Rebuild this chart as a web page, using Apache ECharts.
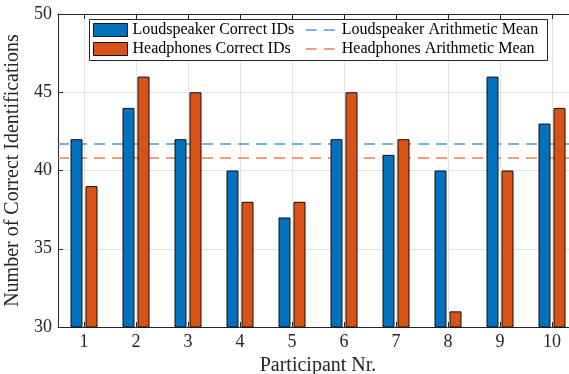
<!DOCTYPE html>
<html>
<head>
<meta charset="utf-8">
<script src="https://cdn.jsdelivr.net/npm/echarts@6/dist/echarts.min.js"></script>
<style>
html,body{margin:0;padding:0;background:#fff;}
#c{width:569px;height:374px;}
</style>
</head>
<body>
<div id="c"></div>
<script>
var participants = ['1','2','3','4','5','6','7','8','9','10'];
var loudspeakerIDs = [42, 44, 42, 40, 37, 42, 41, 40, 46, 43];
var headphonesIDs = [39, 46, 45, 38, 38, 45, 42, 31, 40, 44];
var loudspeakerMean = [41.7];
var headphonesMean = [40.8];
var yTicks = [30, 35, 40, 45, 50];

var FONT = 'Liberation Serif';
var TXT = '#262626';
var BLUE = '#0072BD', ORANGE = '#D95319';
var BLUE_L = '#4d9bd5', ORANGE_L = '#e4805a';
var DASH = [11, 7];

var chart = echarts.init(document.getElementById('c'), null, {renderer: 'canvas'});

var option = {
  animation: false,
  backgroundColor: '#ffffff',
  textStyle: {fontFamily: FONT, color: TXT},
  grid: {left: 58, top: 14, width: 520, height: 313, containLabel: false, outerBoundsMode: 'none'},
  graphic: [{
    type: 'rect',
    shape: {x: 89.5, y: 19.5, width: 458, height: 41},
    style: {fill: '#ffffff', stroke: TXT, lineWidth: 1},
    z: 50, silent: true
  }],
  legend: [{
    data: ['Loudspeaker Correct IDs', 'Headphones Correct IDs'],
    orient: 'vertical',
    left: 93, top: 22,
    padding: 0,
    icon: 'rect',
    itemWidth: 34, itemHeight: 13, itemGap: 3,
    itemStyle: {borderColor: '#111', borderWidth: 1},
    textStyle: {fontFamily: FONT, fontSize: 16, color: '#000', lineHeight: 16},
    selectedMode: false,
    z: 60
  }, {
    data: ['Loudspeaker Arithmetic Mean', 'Headphones Arithmetic Mean'],
    orient: 'vertical',
    left: 305, top: 22,
    padding: 0,
    itemWidth: 31, itemHeight: 13, itemGap: 3,
    itemStyle: {color: 'rgba(0,0,0,0)', borderColor: 'rgba(0,0,0,0)', borderWidth: 0, opacity: 0},
    lineStyle: {width: 1.5, type: DASH},
    textStyle: {fontFamily: FONT, fontSize: 16, color: '#000', lineHeight: 16},
    selectedMode: false,
    z: 60
  }],
  xAxis: [{
    type: 'category',
    data: participants,
    position: 'bottom',
    name: 'Participant Nr.',
    nameLocation: 'middle',
    nameGap: 25,
    nameTextStyle: {fontFamily: FONT, fontSize: 20, color: TXT},
    axisLine: {show: true, lineStyle: {color: TXT, width: 1}},
    axisTick: {show: true, inside: true, length: 5, alignWithLabel: true, lineStyle: {color: TXT}},
    axisLabel: {fontFamily: FONT, fontSize: 18, color: TXT, margin: 6},
    splitLine: {show: true, alignWithLabel: true, lineStyle: {color: '#e3e3e3', width: 1}}
  }, {
    type: 'category',
    data: participants,
    position: 'top',
    axisLine: {show: true, lineStyle: {color: TXT, width: 1}},
    axisTick: {show: true, inside: true, length: 5, alignWithLabel: true, lineStyle: {color: TXT}},
    axisLabel: {show: false},
    splitLine: {show: false}
  }],
  yAxis: [{
    type: 'value',
    min: 30, max: 50, interval: 5,
    name: 'Number of Correct Identifications',
    nameLocation: 'middle',
    nameGap: 26,
    nameTextStyle: {fontFamily: FONT, fontSize: 20, color: TXT},
    axisLine: {show: true, lineStyle: {color: TXT, width: 1}},
    axisTick: {show: true, inside: true, length: 5, lineStyle: {color: TXT}},
    axisLabel: {fontFamily: FONT, fontSize: 18, color: TXT, margin: 6,
      customValues: yTicks},
    splitLine: {show: true, lineStyle: {color: '#e3e3e3', width: 1}}
  }],
  series: [{
    name: 'Loudspeaker Correct IDs',
    type: 'bar',
    data: loudspeakerIDs,
    barWidth: 12,
    barGap: '25%',
    itemStyle: {color: BLUE, borderColor: '#111', borderWidth: 1},
    z: 3
  }, {
    name: 'Headphones Correct IDs',
    type: 'bar',
    data: headphonesIDs,
    barWidth: 12,
    barGap: '25%',
    itemStyle: {color: ORANGE, borderColor: '#111', borderWidth: 1},
    z: 3
  }, {
    name: 'Loudspeaker Arithmetic Mean',
    type: 'line',
    data: [],
    symbol: 'none',
    itemStyle: {color: BLUE_L},
    lineStyle: {color: BLUE_L, width: 1.5, type: DASH},
    z: 1,
    markLine: {
      silent: true, symbol: ['none', 'none'], z: 1,
      label: {show: false},
      lineStyle: {color: BLUE_L, width: 1.5, type: DASH},
      data: [{yAxis: loudspeakerMean[0]}]
    }
  }, {
    name: 'Headphones Arithmetic Mean',
    type: 'line',
    data: [],
    symbol: 'none',
    itemStyle: {color: ORANGE_L},
    lineStyle: {color: ORANGE_L, width: 1.5, type: DASH},
    z: 1,
    markLine: {
      silent: true, symbol: ['none', 'none'], z: 1,
      label: {show: false},
      lineStyle: {color: ORANGE_L, width: 1.5, type: DASH},
      data: [{yAxis: headphonesMean[0]}]
    }
  }]
};
chart.setOption(option);
</script>
</body>
</html>
